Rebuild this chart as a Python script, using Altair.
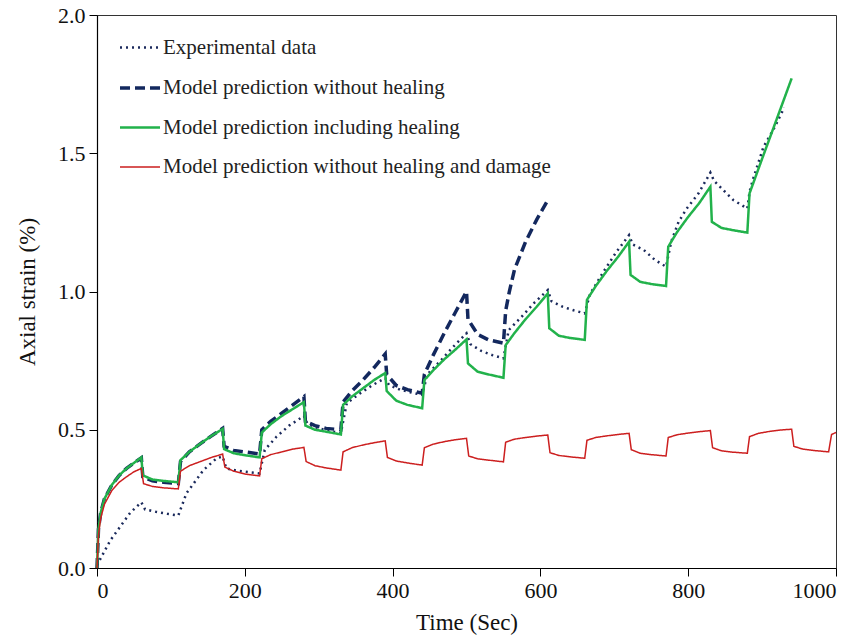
import altair as alt
import pandas as pd

SERIES = ["Experimental data",
          "Model prediction without healing",
          "Model prediction including healing",
          "Model prediction without healing and damage"]

# Experimental data (dotted)
exp_t = [0, 18, 45, 60, 65, 80, 95, 110,
         121, 144, 162, 170, 175, 190, 205, 220,
         227, 243, 260, 280, 285, 300, 315, 330,
         338, 355, 372, 390, 395, 410, 425, 440,
         447, 465, 482, 500, 505, 520, 535, 550,
         557, 575, 592, 610, 615, 630, 645, 660,
         667, 685, 702, 720, 725, 740, 755, 770,
         777, 787, 798, 814, 830, 835, 850, 861, 880,
         883, 887, 902, 915, 930]
exp_y = [0.01, 0.10, 0.20, 0.238, 0.212, 0.203, 0.196, 0.19,
         0.27, 0.354, 0.397, 0.403, 0.36, 0.352, 0.347, 0.342,
         0.427, 0.475, 0.515, 0.55, 0.52, 0.505, 0.495, 0.488,
         0.596, 0.63, 0.66, 0.687, 0.662, 0.645, 0.635, 0.626,
         0.70, 0.75, 0.80, 0.849, 0.81, 0.785, 0.77, 0.758,
         0.86, 0.91, 0.96, 1.005, 0.965, 0.945, 0.932, 0.921,
         0.99, 1.07, 1.14, 1.204, 1.17, 1.15, 1.114, 1.09,
         1.18, 1.252, 1.30, 1.355, 1.43, 1.40, 1.36, 1.331, 1.30,
         1.36, 1.40, 1.524, 1.584, 1.665]

# Model prediction without healing (dashed)
noh_t = [0, 2, 5, 10, 20, 30, 40, 50, 60, 62, 75, 90, 110,
         113, 125, 140, 155, 170, 172, 185, 200, 220,
         223, 235, 250, 265, 280, 282, 295, 310, 330,
         333, 345, 360, 375, 390, 392, 405, 420, 440,
         443, 455, 470, 485, 500, 502, 515, 530, 550,
         553, 558, 565, 580, 595, 610]
noh_y = [0.0, 0.14, 0.20, 0.25, 0.30, 0.335, 0.36, 0.38, 0.398, 0.33, 0.315, 0.31, 0.305,
         0.385, 0.42, 0.45, 0.478, 0.505, 0.44, 0.425, 0.42, 0.412,
         0.50, 0.53, 0.56, 0.59, 0.62, 0.53, 0.515, 0.505, 0.50,
         0.60, 0.64, 0.68, 0.725, 0.774, 0.70, 0.66, 0.645, 0.632,
         0.70, 0.77, 0.85, 0.925, 1.0, 0.90, 0.845, 0.825, 0.813,
         0.93, 1.0, 1.08, 1.18, 1.26, 1.33]

# Model prediction including healing (green)
heal_t = [0, 2, 5, 10, 20, 30, 40, 50, 60, 62, 75, 90, 110,
          113, 125, 140, 155, 170, 172, 185, 200, 220,
          223, 235, 250, 265, 280, 282, 295, 310, 330,
          333, 345, 360, 375, 390, 392, 405, 420, 440,
          443, 455, 470, 485, 500, 502, 515, 530, 550,
          553, 565, 580, 595, 610, 612, 625, 640, 660,
          663, 675, 690, 705, 720, 722, 735, 750, 770,
          773, 785, 800, 815, 830, 832, 845, 860, 880,
          883, 900, 920, 940]
heal_y = [0.0, 0.14, 0.20, 0.25, 0.30, 0.335, 0.36, 0.38, 0.40, 0.335, 0.32, 0.315, 0.31,
          0.39, 0.42, 0.45, 0.478, 0.503, 0.43, 0.415, 0.408, 0.40,
          0.49, 0.52, 0.55, 0.575, 0.60, 0.515, 0.50, 0.493, 0.483,
          0.59, 0.62, 0.65, 0.68, 0.705, 0.64, 0.605, 0.59, 0.578,
          0.68, 0.715, 0.755, 0.79, 0.827, 0.74, 0.71, 0.70, 0.688,
          0.806, 0.85, 0.90, 0.945, 0.993, 0.867, 0.84, 0.832, 0.825,
          0.97, 1.02, 1.075, 1.125, 1.18, 1.06, 1.035, 1.027, 1.02,
          1.162, 1.215, 1.27, 1.32, 1.379, 1.252, 1.23, 1.222, 1.213,
          1.355, 1.48, 1.625, 1.771]

# Model prediction without healing and damage (red)
nod_t = [0, 2, 5, 10, 20, 30, 40, 50, 60, 63, 75, 90, 110,
         113, 125, 140, 155, 170, 173, 185, 200, 220,
         223, 235, 250, 265, 280, 283, 295, 310, 330,
         333, 345, 360, 375, 390, 393, 405, 420, 440,
         443, 455, 470, 485, 500, 503, 515, 530, 550,
         553, 565, 580, 595, 610, 613, 625, 640, 660,
         663, 675, 690, 705, 720, 723, 735, 750, 770,
         773, 785, 800, 815, 830, 833, 845, 860, 880,
         883, 895, 910, 925, 940, 943, 955, 970, 990,
         994, 1000]
nod_y = [0.0, 0.12, 0.18, 0.23, 0.28, 0.31, 0.33, 0.348, 0.36, 0.305, 0.295, 0.29, 0.286,
         0.35, 0.37, 0.385, 0.40, 0.412, 0.365, 0.35, 0.34, 0.333,
         0.395, 0.41, 0.42, 0.43, 0.436, 0.385, 0.37, 0.362, 0.354,
         0.42, 0.435, 0.445, 0.453, 0.46, 0.40, 0.387, 0.38, 0.372,
         0.435, 0.448, 0.457, 0.464, 0.469, 0.405, 0.395, 0.39, 0.384,
         0.455, 0.466, 0.472, 0.477, 0.481, 0.417, 0.407, 0.402, 0.397,
         0.462, 0.472, 0.478, 0.483, 0.487, 0.428, 0.415, 0.41, 0.405,
         0.472, 0.482, 0.488, 0.493, 0.497, 0.435, 0.424, 0.419, 0.415,
         0.475, 0.487, 0.494, 0.499, 0.502, 0.44, 0.43, 0.425, 0.42,
         0.483, 0.49]

x_ticks = [0, 200, 400, 600, 800, 1000]
y_ticks = [0.0, 0.5, 1.0, 1.5, 2.0]

frames = []
for name, ts, ys in zip(SERIES, [exp_t, noh_t, heal_t, nod_t], [exp_y, noh_y, heal_y, nod_y]):
    frames.append(pd.DataFrame({"time": ts, "strain": ys, "series": name}))
df = pd.concat(frames, ignore_index=True)

colors = ["#1b2a5c", "#13285e", "#22b24b", "#cc1f1f"]
dashes = [[2, 4], [10, 5], [1, 0], [1, 0]]
widths = [2.5, 3.5, 2.5, 1.5]

FONT = "Liberation Serif"
leg = alt.Legend(title=None, orient="none", legendX=21, legendY=11,
                 symbolType="stroke", symbolSize=1600, labelFontSize=21,
                 labelFont=FONT, labelColor="#222", labelOffset=1,
                 rowPadding=8, labelLimit=600)

chart = alt.Chart(df).mark_line().encode(
    x=alt.X("time:Q", title="Time (Sec)",
            scale=alt.Scale(domain=[0, 1000], nice=False),
            axis=alt.Axis(values=x_ticks, format="d")),
    y=alt.Y("strain:Q", title="Axial strain (%)",
            scale=alt.Scale(domain=[0, 2.0], nice=False),
            axis=alt.Axis(values=y_ticks, format=".1f")),
    color=alt.Color("series:N", scale=alt.Scale(domain=SERIES, range=colors), legend=leg),
    strokeDash=alt.StrokeDash("series:N", scale=alt.Scale(domain=SERIES, range=dashes), legend=leg),
    strokeWidth=alt.StrokeWidth("series:N", scale=alt.Scale(type="ordinal", domain=SERIES, range=widths), legend=leg),
    order=alt.Order("time:Q"),
).properties(
    width=739, height=553,
    autosize=alt.AutoSizeParams(type="none"),
    padding={"left": 97, "top": 15, "right": 29, "bottom": 73},
).configure_view(
    stroke="#333", strokeWidth=1
).configure_axis(
    grid=False, domainColor="black", tickColor="black", domainWidth=1.2,
    tickSize=8, labelFont=FONT, titleFont=FONT, labelFontSize=22, titleFontSize=23,
    labelColor="#111", titleColor="#111", titleFontWeight="normal", labelPadding=4
).configure_axisY(
    titlePadding=18
).configure_axisX(
    titlePadding=10
)

chart.save("out.html", embed_options={"renderer": "svg", "actions": False})
